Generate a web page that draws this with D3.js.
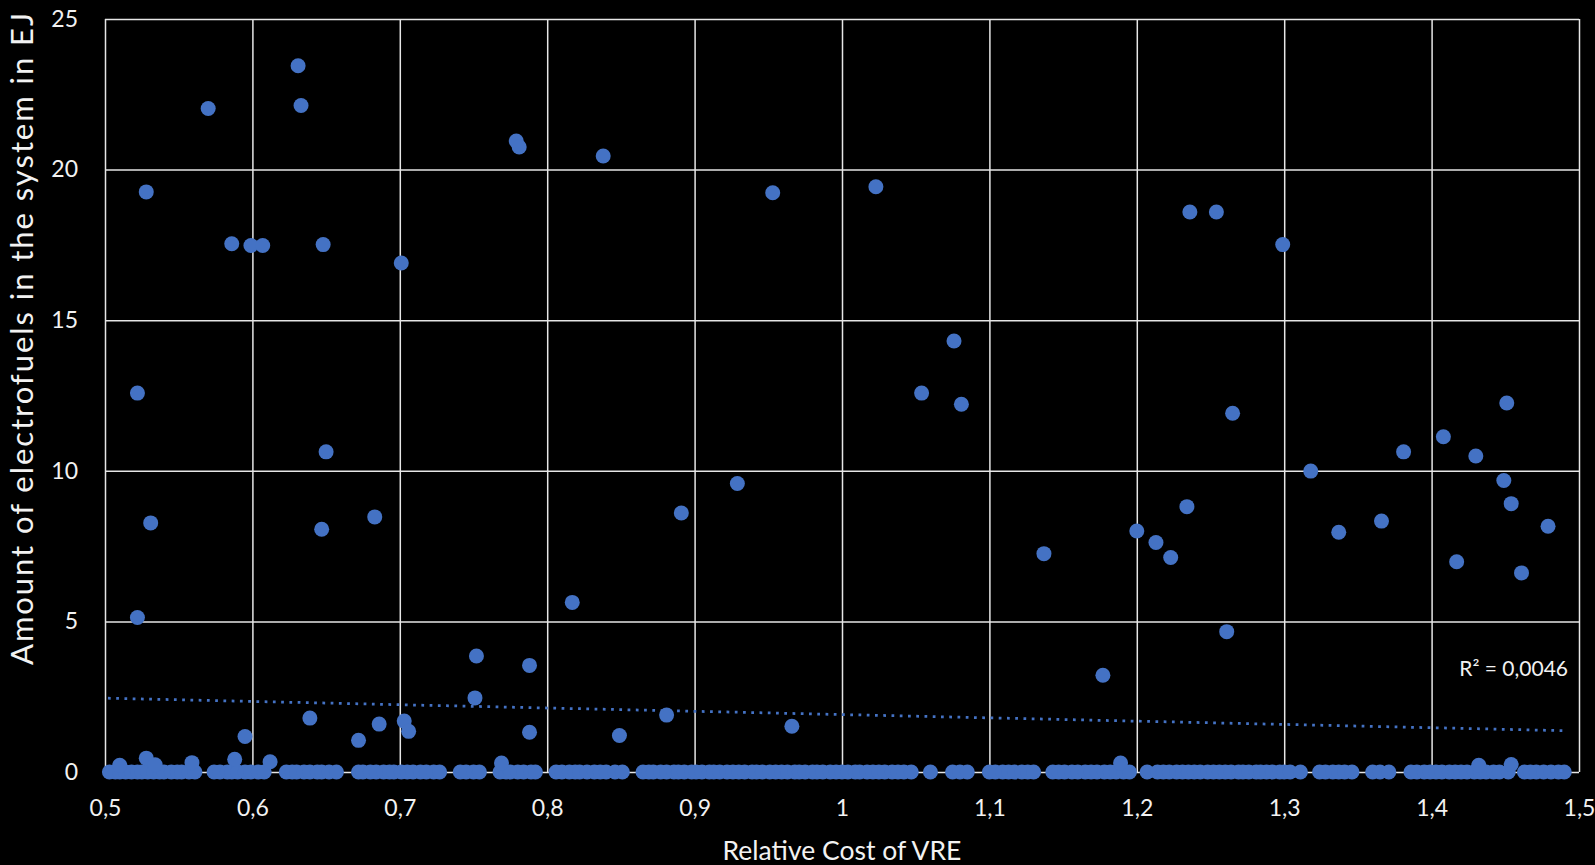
<!DOCTYPE html>
<html>
<head>
<meta charset="utf-8">
<script src="https://cdn.jsdelivr.net/npm/d3@7"></script>
<style>
  html, body { margin: 0; padding: 0; background: #000; }
  svg text { font-family: Lato, "Open Sans", sans-serif; fill: #f2f2f2; }
</style>
</head>
<body>
<div id="chart"></div>
<script>
// Relative VRE cost vs electrofuels (EJ)

// runs with some electrofuels
var costX = [0.522, 0.528, 0.531, 0.522, 0.570, 0.586, 0.599, 0.607, 0.595, 0.612,
  0.631, 0.633, 0.648, 0.650, 0.647, 0.639, 0.672, 0.683, 0.686, 0.701,
  0.703, 0.706, 0.752, 0.751, 0.779, 0.781, 0.788, 0.788, 0.838, 0.817,
  0.849, 0.881, 0.891, 0.929, 0.953, 0.966, 1.023, 1.054, 1.076, 1.081,
  1.137, 1.177, 1.200, 1.213, 1.223, 1.234, 1.236, 1.254, 1.265, 1.261,
  1.299, 1.318, 1.337, 1.366, 1.381, 1.408, 1.430, 1.451, 1.449, 1.454,
  1.417, 1.461, 1.479];
var fuelY = [12.58, 19.26, 8.27, 5.13, 22.03, 17.54, 17.48, 17.48, 1.18, 0.34,
  23.45, 22.13, 17.51, 10.63, 8.06, 1.79, 1.05, 8.47, 1.59, 16.90,
  1.69, 1.35, 3.85, 2.46, 20.95, 20.75, 3.54, 1.32, 20.45, 5.63,
  1.21, 1.89, 8.60, 9.58, 19.23, 1.52, 19.43, 12.58, 14.31, 12.21,
  7.25, 3.21, 8.00, 7.62, 7.12, 8.81, 18.59, 18.59, 11.91, 4.66,
  17.51, 9.99, 7.96, 8.33, 10.63, 11.13, 10.49, 12.25, 9.68, 8.91,
  6.98, 6.61, 8.16];

// runs just above zero
var lowX = [0.510, 0.528, 0.534, 0.559, 0.588, 0.769, 1.189, 1.432, 1.454];
var lowY = [0.22, 0.46, 0.24, 0.31, 0.42, 0.30, 0.30, 0.22, 0.25];

// runs with no electrofuels at all (y = 0)
var zeroX = [0.503, 0.507, 0.510, 0.514, 0.518, 0.522, 0.525, 0.529, 0.533, 0.537,
  0.540, 0.545, 0.549, 0.552, 0.557, 0.561,
  0.574, 0.578, 0.583, 0.586, 0.590, 0.595, 0.599, 0.604, 0.608,
  0.623, 0.627, 0.630, 0.635, 0.639, 0.644, 0.647, 0.652, 0.657,
  0.672, 0.675, 0.680, 0.684, 0.689, 0.693, 0.696, 0.701, 0.705, 0.709,
  0.714, 0.718, 0.723, 0.727,
  0.741, 0.745, 0.750, 0.754,
  0.768, 0.772, 0.775, 0.780, 0.784, 0.789, 0.792,
  0.806, 0.810, 0.815, 0.819, 0.822, 0.827, 0.832, 0.836, 0.840, 0.846, 0.851,
  0.865, 0.869, 0.872, 0.877, 0.881, 0.886, 0.889, 0.893, 0.898, 0.901,
  0.905, 0.910, 0.913, 0.917, 0.922, 0.926, 0.930, 0.934, 0.939, 0.942,
  0.946, 0.951, 0.955, 0.959, 0.963, 0.968, 0.971, 0.975, 0.980, 0.983,
  0.987, 0.992, 0.996, 1.000, 1.004, 1.009, 1.012, 1.017, 1.021, 1.025,
  1.029, 1.034, 1.038, 1.042, 1.047,
  1.060, 1.075, 1.080, 1.085,
  1.100, 1.104, 1.109, 1.113, 1.117, 1.122, 1.126, 1.130,
  1.143, 1.147, 1.151, 1.156, 1.160, 1.165, 1.169, 1.173, 1.178, 1.182,
  1.186, 1.191, 1.195, 1.207,
  1.214, 1.218, 1.222, 1.227, 1.231, 1.235, 1.239, 1.243, 1.248, 1.252,
  1.256, 1.260, 1.264, 1.269, 1.272, 1.276, 1.281, 1.284, 1.288, 1.292,
  1.297, 1.300, 1.304, 1.311,
  1.324, 1.328, 1.333, 1.337, 1.341, 1.346,
  1.360, 1.365, 1.371,
  1.386, 1.390, 1.395, 1.399, 1.403, 1.407, 1.412, 1.416, 1.420, 1.424,
  1.429, 1.433, 1.437, 1.442, 1.446, 1.452,
  1.463, 1.467, 1.471, 1.476, 1.481, 1.486, 1.490];

// linear trendline as shown in the chart (Excel fit over all runs)
var trendX = [0.502, 1.492];
var trendY = [2.45, 1.37];
var rSquared = "R² = 0,0046";

var xTicks = [0.5, 0.6, 0.7, 0.8, 0.9, 1, 1.1, 1.2, 1.3, 1.4, 1.5];
var yTicks = [0, 5, 10, 15, 20, 25];

var svgWidth = 1595;
var svgHeight = 865;
var margin = { top: 19, right: 16, bottom: 93, left: 105 };
var chartWidth = svgWidth - margin.left - margin.right;
var chartHeight = svgHeight - margin.top - margin.bottom;

var svg = d3.select("#chart").append("svg")
  .attr("width", svgWidth)
  .attr("height", svgHeight)
  .style("background", "#000");

var g = svg.append("g")
  .attr("transform", `translate(${margin.left}, ${margin.top})`);

var x = d3.scaleLinear().domain([0.5, 1.5]).range([0, chartWidth]);
var y = d3.scaleLinear().domain([0, 25]).range([chartHeight, 0]);

var fmt = d => String(d).replace(".", ",");

// gridlines
g.append("g")
  .call(d3.axisBottom(x).tickValues(xTicks).tickSize(-chartHeight).tickFormat(""))
  .attr("transform", `translate(0, ${chartHeight})`)
  .call(ax => ax.select(".domain").remove())
  .selectAll("line").attr("stroke", "#e6e6e6").attr("stroke-width", 1.5);

g.append("g")
  .call(d3.axisLeft(y).tickValues(yTicks).tickSize(-chartWidth).tickFormat(""))
  .call(ax => ax.select(".domain").remove())
  .selectAll("line").attr("stroke", "#e6e6e6").attr("stroke-width", 1.5);

// tick labels
var xAxis = g.append("g")
  .attr("transform", `translate(0, ${chartHeight})`)
  .call(d3.axisBottom(x).tickValues(xTicks).tickSize(0).tickPadding(28).tickFormat(fmt));
xAxis.select(".domain").remove();
xAxis.selectAll("text").style("font-size", "23px").attr("fill", "#f2f2f2");

var yAxis = g.append("g")
  .call(d3.axisLeft(y).tickValues(yTicks).tickSize(0).tickPadding(27).tickFormat(fmt));
yAxis.select(".domain").remove();
yAxis.selectAll("text").style("font-size", "23px").attr("fill", "#f2f2f2");

// points
var pts = [];
zeroX.forEach(d => pts.push([d, 0]));
lowX.forEach((d, i) => pts.push([d, lowY[i]]));
costX.forEach((d, i) => pts.push([d, fuelY[i]]));

g.append("g").selectAll("circle")
  .data(pts)
  .enter()
  .append("circle")
  .attr("cx", d => x(d[0]))
  .attr("cy", d => y(d[1]))
  .attr("r", 7.5)
  .attr("fill", "#4472c4");

// trendline
g.append("line")
  .attr("x1", x(trendX[0])).attr("y1", y(trendY[0]))
  .attr("x2", x(trendX[1])).attr("y2", y(trendY[1]))
  .attr("stroke", "#4472c4")
  .attr("stroke-width", 2.75)
  .attr("stroke-dasharray", "2.75 5.5");

svg.append("text")
  .attr("x", 1568)
  .attr("y", 676)
  .attr("text-anchor", "end")
  .style("font-size", "21px")
  .text(rSquared);

// axis titles
svg.append("text")
  .attr("x", margin.left + x(1))
  .attr("y", 860)
  .attr("text-anchor", "middle")
  .style("font-size", "26.5px")
  .text("Relative Cost of VRE");

svg.append("text")
  .attr("transform", "translate(33, 339) rotate(-90)")
  .attr("text-anchor", "middle")
  .attr("textLength", 652)
  .attr("lengthAdjust", "spacing")
  .style("font-size", "31px")
  .text("Amount of electrofuels in the system in EJ");
</script>
</body>
</html>
